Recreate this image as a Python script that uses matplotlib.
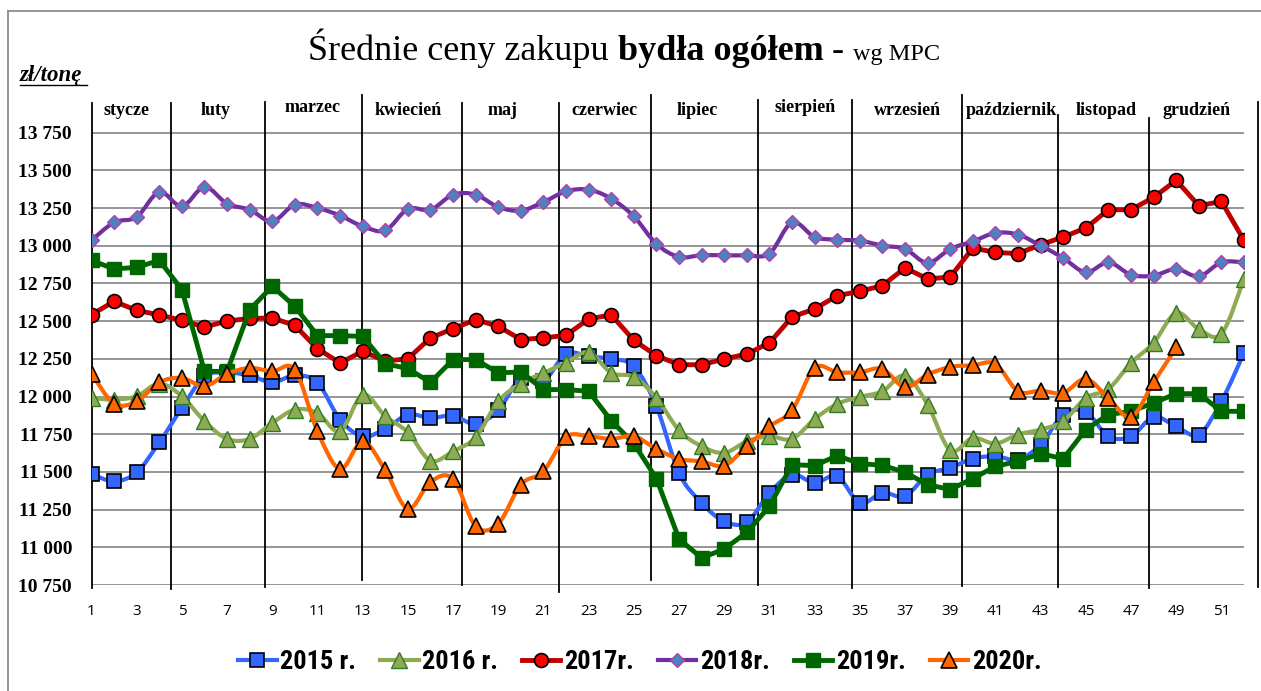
import numpy as np
import matplotlib.pyplot as plt
from matplotlib.path import Path
from matplotlib.patches import PathPatch
from matplotlib.lines import Line2D
from matplotlib.ticker import FuncFormatter

# Średnie ceny zakupu bydła ogółem (zł/tonę), tygodnie 1-52
weeks = list(range(1, 53))

y2015 = [11486, 11438, 11497, 11696, 11924, 12134, 12158, 12140, 12094, 12140, 12092, 11847, 11736,
         11785, 11880, 11858, 11873, 11818, 11909, 12123, 12101, 12284, 12266, 12249, 12200, 11935,
         11493, 11294, 11172, 11166, 11361, 11482, 11427, 11471, 11294, 11361, 11339, 11482,
         11527, 11588, 11604, 11582, 11681, 11880, 11898, 11736, 11736, 11864, 11802, 11748, 11968, 12289]
y2016 = [11991, 11980, 12002, 12086, 12002, 11836, 11719, 11719, 11825, 11913, 11891, 11769, 12013,
         11869, 11763, 11575, 11637, 11730, 11968, 12086, 12157, 12223, 12293, 12157, 12130, 11991,
         11776, 11670, 11626, 11703, 11736, 11719, 11851, 11951, 11997, 12035, 12139, 11946,
         11643, 11725, 11688, 11748, 11781, 11836, 11991, 12050, 12223, 12356, 12555, 12448, 12415, 12780]
y2017 = [12543, 12631, 12572, 12541, 12505, 12461, 12501, 12518, 12521, 12472, 12317, 12223, 12300,
         12235, 12251, 12389, 12450, 12510, 12466, 12378, 12389, 12406, 12515, 12541, 12373, 12271,
         12211, 12211, 12249, 12282, 12356, 12528, 12581, 12669, 12698, 12736, 12853, 12780,
         12793, 12985, 12956, 12948, 13007, 13058, 13118, 13239, 13239, 13321, 13434, 13266, 13294, 13036]
y2018 = [13036, 13155, 13191, 13357, 13261, 13390, 13279, 13239, 13162, 13273, 13251, 13200, 13129,
         13102, 13244, 13239, 13339, 13339, 13257, 13233, 13290, 13361, 13372, 13312, 13195, 13012,
         12926, 12937, 12937, 12937, 12948, 13155, 13058, 13040, 13034, 13001, 12979, 12886,
         12979, 13029, 13085, 13074, 13001, 12919, 12824, 12890, 12808, 12802, 12846, 12797, 12890, 12890]
y2019 = [12903, 12846, 12857, 12903, 12709, 12167, 12167, 12576, 12731, 12598, 12404, 12404, 12399,
         12218, 12185, 12094, 12245, 12245, 12157, 12163, 12046, 12046, 12035, 11840, 11688, 11456,
         11055, 10929, 10989, 11099, 11272, 11548, 11542, 11608, 11555, 11544, 11497, 11416,
         11383, 11456, 11537, 11570, 11621, 11588, 11781, 11880, 11902, 11958, 12019, 12019, 11902, 11902]
y2020 = [12152, 11953, 11968, 12094, 12123, 12068, 12150, 12190, 12167, 12178, 11769, 11520, 11703,
         11511, 11255, 11434, 11454, 11139, 11157, 11416, 11504, 11732, 11736, 11719, 11736, 11652,
         11586, 11570, 11542, 11670, 11802, 11909, 12190, 12161, 12161, 12183, 12061, 12146,
         12196, 12207, 12216, 12035, 12039, 12024, 12117, 11991, 11864, 12094, 12326]

labels = ["2015 r.", "2016 r.", "2017r.", "2018r.", "2019r.", "2020r."]

months = ["stycze", "luty", "marzec", "kwiecień", "maj", "czerwiec", "lipiec",
          "sierpień", "wrzesień", "październik", "listopad", "grudzień"]
month_pos = [2.57, 6.5, 10.8, 15.0, 19.2, 23.7, 27.8, 32.6, 37.1, 41.7, 45.9, 49.9]
# granice miesięcy (w tygodniach) + góra/dół kresek
div_pos = [1, 4.53, 8.68, 12.96, 17.4, 21.7, 25.74, 30.5, 34.65, 39.53, 43.77, 47.78, 52.6]
div_top = [13946, 13946, 13953, 13999, 13946, 13946, 13999, 13966, 13966, 13999, 13866, 13847, 13953]
div_bot = [10730, 10725, 10735, 10783, 10750, 10704, 10783, 10750, 10730, 10745, 10740, 10730, 10735]

yticks = list(range(10750, 13751, 250))
xticks = list(range(1, 52, 2))


def smooth_path(x, y):
    # wygładzona linia jak w Excelu (Bezier przez punkty)
    x = np.asarray(x, float)
    y = np.asarray(y, float)
    n = len(x)
    verts = [(x[0], y[0])]
    codes = [Path.MOVETO]
    for i in range(n - 1):
        a = max(i - 1, 0)
        b = min(i + 2, n - 1)
        c1 = (x[i] + (x[i + 1] - x[a]) / 6, y[i] + (y[i + 1] - y[a]) / 6)
        c2 = (x[i + 1] - (x[b] - x[i]) / 6, y[i + 1] - (y[b] - y[i]) / 6)
        verts += [c1, c2, (x[i + 1], y[i + 1])]
        codes += [Path.CURVE4] * 3
    return Path(verts, codes)


W, H = 1261, 691
fig = plt.figure(figsize=(W / 100, H / 100), dpi=100)
ax = fig.add_axes([91.5 / W, 1 - 585 / H, (1244 - 91.5) / W, 490 / H])

series = [
    # data, line colour, lw, marker, ms, face, edge, mew, smooth
    (y2015, "#3366FF", 3.0, "s", 9.5, "#3366FF", "black", 1.2, True),
    (y2016, "#8FAA55", 3.0, "^", 11, "#8FAA55", "#2E7D1E", 1.0, True),
    (y2017, "#C00000", 3.5, "o", 10, "#FF0000", "black", 1.2, False),
    (y2018, "#7030A0", 3.0, "D", 7.5, "#4F81BD", "#B040B0", 1.0, True),
    (y2019, "#006600", 3.5, "s", 10, "#006600", "#006600", 1.0, False),
    (y2020, "#FF6600", 3.0, "^", 11, "#FF6600", "black", 1.2, True),
]

handles = []
for k, (vals, lc, lw, mk, ms, fc, ec, mew, smooth) in enumerate(series):
    xs = weeks[:len(vals)]
    z = 3 + k
    if smooth:
        ax.add_patch(PathPatch(smooth_path(xs, vals), fill=False, edgecolor=lc, lw=lw,
                               capstyle="round", joinstyle="round", zorder=z))
    else:
        ax.plot(xs, vals, color=lc, lw=lw, zorder=z, solid_joinstyle="round")
    ax.plot(xs, vals, linestyle="none", marker=mk, ms=ms, mfc=fc, mec=ec, mew=mew, zorder=z)
    handles.append(Line2D([], [], color=lc, lw=lw, marker=mk, ms=ms, mfc=fc, mec=ec, mew=mew))

ax.set_xlim(1, 52)
ax.set_ylim(10750, 14000)
ax.set_yticks(yticks)
ax.set_xticks(xticks)
ax.yaxis.set_major_formatter(FuncFormatter(lambda v, p: f"{v:,.0f}".replace(",", " ")))
ax.yaxis.grid(True, color="#8c8c8c", lw=1.3)
ax.set_axisbelow(True)
for s in ax.spines.values():
    s.set_visible(False)
ax.tick_params(axis="y", length=0, pad=14)
ax.tick_params(axis="x", length=0, pad=14)
for t in ax.get_yticklabels():
    t.set_fontfamily(["Liberation Serif", "DejaVu Serif"])
    t.set_fontweight("bold")
    t.set_fontsize(14)
for t in ax.get_xticklabels():
    t.set_fontfamily("Open Sans")
    t.set_fontsize(11)

# kreski miesięcy
for xp, yt, yb in zip(div_pos, div_top, div_bot):
    ax.plot([xp, xp], [yb, yt], color="black", lw=1.3, clip_on=False, zorder=2)

for name, xp in zip(months, month_pos):
    yy = 13887 if name in ("marzec", "sierpień") else 13865
    ax.text(xp, yy, name, ha="center", va="baseline", fontsize=13, fontweight="bold",
            family=["Liberation Serif", "DejaVu Serif"], clip_on=False)

# tytuł
serif = ["Liberation Serif", "DejaVu Serif"]
t1 = fig.text(308 / W, 1 - 60 / H, "Średnie ceny zakupu ", fontsize=26, family=serif, va="baseline")
t2 = ax.annotate("bydła ogółem", xy=(1, 0), xycoords=t1, va="bottom", ha="left",
                 fontsize=26, fontweight="bold", family=serif, annotation_clip=False)
t3 = ax.annotate(" - ", xy=(1, 0), xycoords=t2, va="bottom", ha="left",
                 fontsize=26, family=serif, annotation_clip=False)
ax.annotate("wg MPC", xy=(1, 0), xycoords=t3, xytext=(0, 1.9), textcoords="offset points",
            va="bottom", ha="left", fontsize=17.5, family=serif, annotation_clip=False)

fig.text(20 / W, 1 - 81 / H, "zł/tonę", fontsize=16.5, fontweight="bold", fontstyle="italic",
         family=serif, va="baseline")
fig.add_artist(Line2D([20 / W, 87 / W], [1 - 85 / H] * 2, transform=fig.transFigure, color="black", lw=1))

# ramka
fig.add_artist(Line2D([8 / W, 8 / W], [0, 1 - 11 / H], transform=fig.transFigure, color="#8c8c8c", lw=1.3))
fig.add_artist(Line2D([8 / W, 1], [1 - 11 / H] * 2, transform=fig.transFigure, color="#8c8c8c", lw=1.3))

fig.legend(handles, labels, loc="center", bbox_to_anchor=(640 / W, 1 - 662 / H), ncol=6,
           frameon=False, handlelength=1.45, handletextpad=0.15, columnspacing=0.9,
           prop={"family": ["Roboto Condensed", "Liberation Sans Narrow", "DejaVu Sans"],
                 "weight": "bold", "size": 19, "stretch": "condensed"})

fig.savefig("out.png", dpi=100)
